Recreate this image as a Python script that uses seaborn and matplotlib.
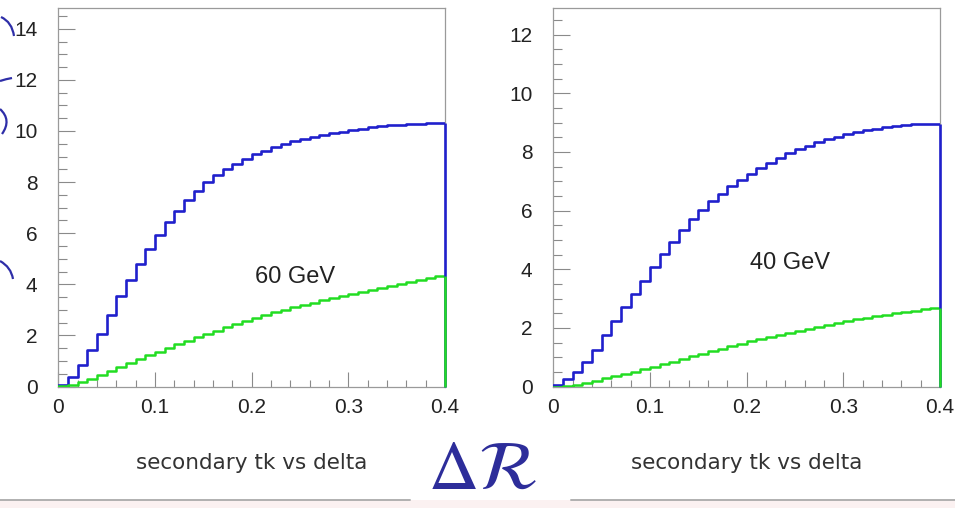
import numpy as np
import pandas as pd
import matplotlib
matplotlib.use("Agg")
import matplotlib.pyplot as plt
import seaborn as sns
from matplotlib.ticker import MultipleLocator, FixedLocator, FixedFormatter
from matplotlib.path import Path
from matplotlib.patches import PathPatch, Rectangle

# ---------------- data ----------------
bin_edges = [round(0.01 * i, 2) for i in range(41)]          # 40 bins, 0 .. 0.4
x_tick_labels = ["0", "0.1", "0.2", "0.3", "0.4"]
panel_labels = ["60 GeV", "40 GeV"]
axis_title = "secondary tk vs delta"

blue_60 = [0.05, 0.38, 0.86, 1.41, 2.07, 2.81, 3.53, 4.18, 4.81, 5.40,
           5.92, 6.42, 6.88, 7.29, 7.66, 8.01, 8.28, 8.51, 8.72, 8.91,
           9.08, 9.23, 9.38, 9.50, 9.60, 9.69, 9.77, 9.84, 9.91, 9.97,
           10.03, 10.09, 10.14, 10.18, 10.22, 10.25, 10.27, 10.29, 10.30, 10.31]
green_60 = [0.01, 0.06, 0.16, 0.30, 0.46, 0.62, 0.77, 0.92, 1.07, 1.22,
            1.36, 1.51, 1.65, 1.79, 1.93, 2.06, 2.19, 2.32, 2.45, 2.58,
            2.70, 2.81, 2.91, 3.01, 3.10, 3.19, 3.28, 3.37, 3.45, 3.54,
            3.62, 3.70, 3.78, 3.86, 3.94, 4.02, 4.10, 4.18, 4.26, 4.34]
blue_40 = [0.06, 0.25, 0.51, 0.85, 1.25, 1.74, 2.22, 2.70, 3.15, 3.61,
           4.07, 4.51, 4.94, 5.34, 5.70, 6.02, 6.33, 6.58, 6.83, 7.06,
           7.26, 7.46, 7.64, 7.81, 7.96, 8.10, 8.22, 8.33, 8.43, 8.52,
           8.60, 8.68, 8.74, 8.80, 8.85, 8.89, 8.92, 8.94, 8.95, 8.96]
green_40 = [0.00, 0.01, 0.05, 0.11, 0.19, 0.28, 0.35, 0.43, 0.51, 0.59,
            0.67, 0.76, 0.85, 0.94, 1.03, 1.12, 1.20, 1.29, 1.37, 1.46,
            1.54, 1.61, 1.69, 1.76, 1.83, 1.90, 1.97, 2.04, 2.10, 2.17,
            2.23, 2.29, 2.34, 2.40, 2.45, 2.50, 2.55, 2.59, 2.64, 2.69]

edges_arr = np.array(bin_edges)
centers = (edges_arr[:-1] + edges_arr[1:]) / 2
frames = []
for energy, blue, green in [("60 GeV", blue_60, green_60), ("40 GeV", blue_40, green_40)]:
    frames.append(pd.DataFrame({"x": centers, "value": blue, "series": "blue", "energy": energy}))
    frames.append(pd.DataFrame({"x": centers, "value": green, "series": "green", "energy": energy}))
df = pd.concat(frames, ignore_index=True)

# ---------------- style ----------------
sns.set_style("white")
plt.rcParams["font.family"] = ["Liberation Sans", "DejaVu Sans"]
plt.rcParams["mathtext.fontset"] = "stix"

BLUE = "#2020cc"
GREEN = "#22dd22"
FRAME = "#9a9a9a"

W, H = 955, 508
fig = plt.figure(figsize=(W / 100, H / 100), dpi=100)

# decorative overlay (slide elements)
ov = fig.add_axes([0, 0, 1, 1])
ov.set_xlim(0, W)
ov.set_ylim(H, 0)
ov.axis("off")
ov.add_patch(Rectangle((0, 500), W, 8, color="#fbf1f1", lw=0))
ov.plot([0, 410], [500, 500], color="#b0b0b0", lw=1.4)
ov.plot([571, W], [500, 500], color="#b0b0b0", lw=1.4)
ink = "#2e2ea8"
for pts in [[(1, 17), (12, 22), (14, 36)],
            [(0, 81), (6, 79), (12, 78)],
            [(0, 109), (12, 120), (2, 134)],
            [(0, 261), (11, 267), (13, 279)]]:
    pth = Path(pts, [Path.MOVETO, Path.CURVE3, Path.CURVE3])
    ov.add_patch(PathPatch(pth, fill=False, ec=ink, lw=1.6))

fig.text(482 / W, 1 - 471 / H, r"$\Delta\mathcal{R}$", ha="center", va="center",
         fontsize=50, color="#2d2d9a")

panels = [
    dict(energy="60 GeV", left=58.3, ymax=14.8, yticks=list(range(0, 15, 2)),
         label_xy=(0.245, 4.29)),
    dict(energy="40 GeV", left=553.3, ymax=12.9, yticks=list(range(0, 13, 2)),
         label_xy=(0.245, 4.22)),
]
ax_w = 386.7 / W
ax_b = 1 - 386.5 / H
ax_h = (386.5 - 8.3) / H

for p in panels:
    ax = fig.add_axes([p["left"] / W, ax_b, ax_w, ax_h])
    sub = df[df["energy"] == p["energy"]]
    for series, col, lw in [("blue", BLUE, 1.9), ("green", GREEN, 1.8)]:
        s = sub[sub["series"] == series]
        sns.histplot(data=s, x="x", weights="value", bins=bin_edges, element="step",
                     fill=False, color=col, linewidth=lw, ax=ax, legend=False,
                     zorder=3)
        ax.vlines(bin_edges[-1], 0, s["value"].iloc[-1], color=col, lw=lw,
                  zorder=4, clip_on=False)
    ax.set_xlim(0, 0.4)
    ax.set_ylim(0, p["ymax"])
    ax.set_ylabel("")
    ax.set_xlabel(axis_title, fontsize=15.5, color="#333333", family="DejaVu Sans")
    ax.xaxis.set_label_coords(0.5, -0.175)
    ax.xaxis.label.set_va("top")

    ax.xaxis.set_major_locator(FixedLocator([0, 0.1, 0.2, 0.3, 0.4]))
    ax.xaxis.set_major_formatter(FixedFormatter(x_tick_labels))
    ax.xaxis.set_minor_locator(MultipleLocator(0.02))
    ax.yaxis.set_major_locator(FixedLocator(p["yticks"]))
    ax.yaxis.set_minor_locator(MultipleLocator(0.5))
    ax.tick_params(axis="both", which="both", direction="in", color="#8a8a8a",
                   width=0.8, top=False, right=False, left=True, bottom=True,
                   labelcolor="#222222", labelsize=15)
    ax.tick_params(axis="y", which="major", length=12, pad=15)
    ax.tick_params(axis="y", which="minor", length=6.5)
    ax.tick_params(axis="x", which="major", length=11, pad=8)
    ax.tick_params(axis="x", which="minor", length=5)
    for sp in ax.spines.values():
        sp.set_color(FRAME)
        sp.set_linewidth(0.9)
        sp.set_visible(True)
        sp.set_zorder(2)
    ax.text(p["label_xy"][0], p["label_xy"][1], p["energy"], ha="center", va="center",
            fontsize=17, color="#222222")

fig.savefig("out.png", dpi=100)
